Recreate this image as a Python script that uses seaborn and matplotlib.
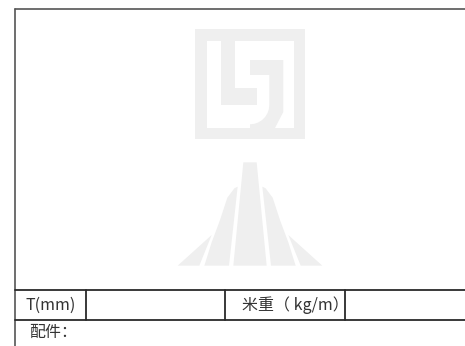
import numpy as np
import seaborn as sns
import matplotlib.pyplot as plt
from matplotlib.patches import Polygon

sns.set_theme(style="white")
plt.rcParams['font.family'] = ['Noto Sans CJK SC', 'DejaVu Sans']

# testi della tabella
row_labels = ["T(mm)", "米重（ kg/m）"]
footer_label = "配件："

W, H = 465, 346
logo_color = "#efefef"
line_color = "#2a2a2a"

fig = plt.figure(figsize=(W / 100, H / 100), dpi=100)
ax = fig.add_axes([0, 0, 1, 1])
ax.set_xlim(0, W)
ax.set_ylim(H, 0)
ax.axis("off")


def arc(cx, cy, r, a0, a1, n=8):
    t = np.radians(np.linspace(a0, a1, n))
    return list(zip(cx + r * np.cos(t), cy + r * np.sin(t)))


def poly(pts):
    ax.add_patch(Polygon(pts, closed=True, facecolor=logo_color, edgecolor="none"))


# logo in alto: cornice quadrata
poly([(195, 29), (305, 29), (305, 41), (195, 41)])
poly([(195, 128), (305, 128), (305, 139), (195, 139)])
poly([(195, 29), (207, 29), (207, 139), (195, 139)])
poly([(294, 29), (305, 29), (305, 139), (294, 139)])
# forma a L
poly([(220.7, 41), (235, 41), (235, 88), (256.7, 88), (256.7, 105), (220.7, 105)])
# forma a J
j = [(250, 60), (283.3, 60), (283.3, 112)]
j += [(275, 128), (250, 128)]
j += arc(250, 105, 19.3, 90, 0)
j += [(269.3, 75), (250, 75)]
poly(j)


# logo in basso (strada / montagna)
def z(pts):
    return [(175 + x / 3, 155 + y / 3) for x, y in pts]


center = z([(205, 22), (245, 22), (275, 332), (175, 332)])
left_in = z([(188, 95), (162, 332), (88, 332), (110, 262), (135, 195), (157, 128), (178, 100)])
left_out = z([(110, 240), (73, 332), (8, 332)])
poly(center)
poly(left_in)
poly(left_out)
poly([(500 - x, y) for x, y in left_in])
poly([(500 - x, y) for x, y in left_out])

# bordi
ax.plot([15, W], [9, 9], color="#555555", lw=1.2)
ax.plot([15, 15], [9, H], color="#555555", lw=1.2)
for yy in (290, 320):
    ax.plot([15, W], [yy, yy], color=line_color, lw=1.3)
for xx in (86, 225, 345):
    ax.plot([xx, xx], [290, 320], color=line_color, lw=1.3)

txt = dict(fontsize=11.5, fontweight="light", color="#333333", ha="left", va="center")
ax.text(25, 305, row_labels[0], **txt)
ax.text(242, 305, row_labels[1], **txt)
ax.text(29, 332, footer_label, **txt)

fig.savefig("out.png", dpi=100)
